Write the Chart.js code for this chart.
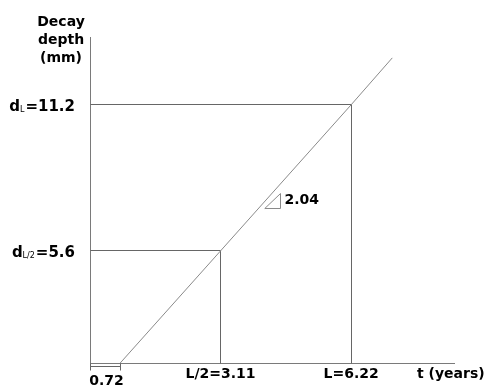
<!DOCTYPE html>
<html>
<head>
<meta charset="utf-8">
<script src="https://cdn.jsdelivr.net/npm/chart.js@4/dist/chart.umd.min.js"></script>
<style>
  html, body { margin: 0; padding: 0; background: #ffffff; }
  #wrap { width: 488px; height: 388px; }
</style>
</head>
<body>
<div id="wrap"><canvas id="c" width="488" height="388"></canvas></div>
<script>
// Decay depth grows linearly with time; key marks on each axis.
const tMarks = [0.72, 3.11, 6.22];
const tLabels = ['0.72', 'L/2=3.11', 'L=6.22'];
const depthMarks = [5.6, 11.2];
const depthSubs = ['L/2', 'L'];
const depthLabels = ['5.6', '11.2'];
const slopeLabel = '2.04';

// Growth line (years, mm)
const lineT = [0.72, 3.11, 6.22, 7.2];
const lineD = [1.3, 5.6, 11.2, 13.0];

// Axis ranges
const tRange = [0, 8.67];
const dRange = [1.3, 13.8];

const FONT = '"DejaVu Sans", Verdana, sans-serif';
const AXIS_COLOR = '#7a7a7a';
const GUIDE_COLOR = '#666666';
const LINE_COLOR = '#8a8a8a';

const growth = lineT.map((t, i) => ({ x: t, y: lineD[i] }));

function lineAt(t) {
  for (let i = 0; i < lineT.length - 1; i++) {
    if (t >= lineT[i] && t <= lineT[i + 1]) {
      const f = (t - lineT[i]) / (lineT[i + 1] - lineT[i]);
      return lineD[i] + f * (lineD[i + 1] - lineD[i]);
    }
  }
  return lineD[lineD.length - 1];
}

const crisp = v => Math.round(v - 0.5) + 0.5;

// Guides: horizontal from the depth axis to the line, then down to the time axis
const guidesPlugin = {
  id: 'decayGuides',
  beforeDatasetsDraw(chart) {
    const ctx = chart.ctx;
    const xs = chart.scales.x;
    const ys = chart.scales.y;
    ctx.save();
    ctx.strokeStyle = GUIDE_COLOR;
    ctx.lineWidth = 1;
    depthMarks.forEach((d, i) => {
      const gx = crisp(xs.getPixelForValue(tMarks[i + 1]));
      const gy = crisp(ys.getPixelForValue(d));
      ctx.beginPath();
      ctx.moveTo(crisp(xs.getPixelForValue(tRange[0])), gy);
      ctx.lineTo(gx, gy);
      ctx.lineTo(gx, crisp(ys.getPixelForValue(dRange[0])));
      ctx.stroke();
    });
    ctx.restore();
  }
};

const labelsPlugin = {
  id: 'decayLabels',
  afterDraw(chart) {
    const ctx = chart.ctx;
    const xs = chart.scales.x;
    const ys = chart.scales.y;
    const area = chart.chartArea;
    ctx.save();
    ctx.fillStyle = '#000000';

    // Depth axis title
    ctx.font = 'bold 14px ' + FONT;
    ctx.textAlign = 'center';
    ctx.textBaseline = 'middle';
    ['Decay', 'depth', '(mm)'].forEach((s, i) => ctx.fillText(s, 61, 22 + i * 18));

    // Depth marks: d with subscript
    depthMarks.forEach((d, i) => {
      const y = ys.getPixelForValue(d);
      const right = area.left - 15;
      ctx.textBaseline = 'alphabetic';
      ctx.textAlign = 'left';
      ctx.font = 'bold 15px ' + FONT;
      const tail = '=' + depthLabels[i];
      const wTail = ctx.measureText(tail).width;
      const wD = ctx.measureText('d').width;
      ctx.font = '8px ' + FONT;
      const wSub = ctx.measureText(depthSubs[i]).width + 1;
      let x = right - wTail - wSub - wD;
      const base = y + 6;
      ctx.font = 'bold 15px ' + FONT;
      ctx.fillText('d', x, base);
      x += wD;
      ctx.font = '8px ' + FONT;
      ctx.fillText(depthSubs[i], x, base + 1);
      x += wSub;
      ctx.font = 'bold 15px ' + FONT;
      ctx.fillText(tail, x, base);
    });

    // Time marks
    ctx.font = 'bold 14px ' + FONT;
    ctx.textAlign = 'center';
    ctx.textBaseline = 'middle';
    tMarks.forEach((t, i) => {
      if (i === 0) return;
      ctx.fillText(tLabels[i], xs.getPixelForValue(t), area.bottom + 11);
    });
    ctx.textAlign = 'left';
    ctx.fillText('t (years)', area.right - 37, area.bottom + 11);

    // Onset bracket from 0 to the first mark
    const x0 = crisp(xs.getPixelForValue(tRange[0]));
    const x1 = crisp(xs.getPixelForValue(tMarks[0]));
    const yb = crisp(area.bottom);
    ctx.strokeStyle = GUIDE_COLOR;
    ctx.lineWidth = 1;
    ctx.beginPath();
    ctx.moveTo(x0, yb);
    ctx.lineTo(x0, yb + 7);
    ctx.moveTo(x1, yb);
    ctx.lineTo(x1, yb + 7);
    ctx.moveTo(x0, yb + 3);
    ctx.lineTo(x1, yb + 3);
    ctx.stroke();
    ctx.textAlign = 'center';
    ctx.fillText(tLabels[0], (x0 + x1) / 2 + 1, area.bottom + 18);

    // Slope marker beside the line
    const tA = 4.02;
    const px = xs.getPixelForValue(tA) + 6;
    const py = crisp(ys.getPixelForValue(lineAt(tA)));
    const rx = crisp(px + 16);
    ctx.strokeStyle = '#8a8a8a';
    ctx.beginPath();
    ctx.moveTo(px, py);
    ctx.lineTo(rx, py);
    ctx.lineTo(rx, py - 15);
    ctx.closePath();
    ctx.stroke();
    ctx.textAlign = 'left';
    ctx.textBaseline = 'middle';
    ctx.fillText(slopeLabel, rx + 4, py - 8);

    ctx.restore();
  }
};

new Chart(document.getElementById('c'), {
  type: 'scatter',
  data: {
    datasets: [
      {
        data: growth,
        showLine: true,
        borderColor: LINE_COLOR,
        borderWidth: 1,
        pointRadius: 0,
        tension: 0,
        fill: false
      }
    ]
  },
  options: {
    responsive: false,
    animation: false,
    devicePixelRatio: 1,
    layout: { padding: { left: 90, right: 34, top: 37, bottom: 25 } },
    plugins: {
      legend: { display: false },
      tooltip: { enabled: false },
      title: { display: false }
    },
    scales: {
      x: {
        type: 'linear',
        min: tRange[0],
        max: tRange[1],
        grid: { display: false, drawTicks: false },
        border: { display: true, color: AXIS_COLOR, width: 1 },
        ticks: { display: false }
      },
      y: {
        type: 'linear',
        min: dRange[0],
        max: dRange[1],
        grid: { display: false, drawTicks: false },
        border: { display: true, color: AXIS_COLOR, width: 1 },
        ticks: { display: false }
      }
    }
  },
  plugins: [guidesPlugin, labelsPlugin]
});
</script>
</body>
</html>
